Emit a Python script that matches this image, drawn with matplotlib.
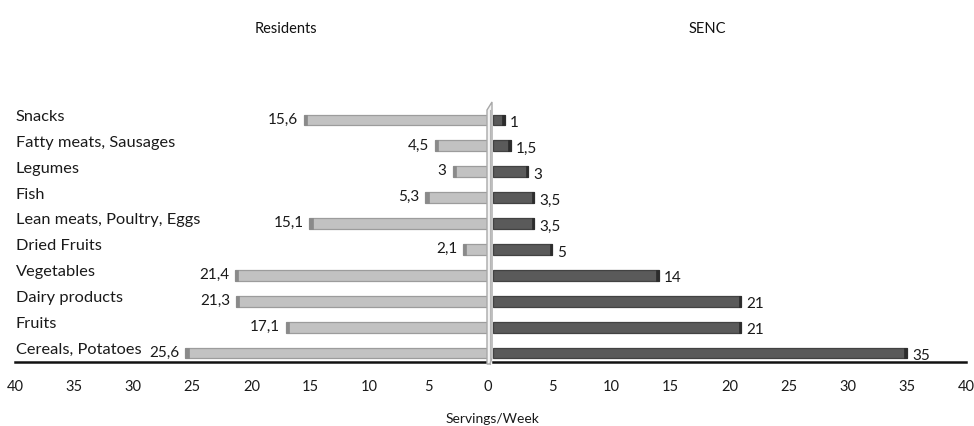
import matplotlib
matplotlib.use("Agg")
import matplotlib.pyplot as plt
from matplotlib.patches import Polygon

plt.rcParams['font.family'] = ['Lato', 'DejaVu Sans']

categories = ["Cereals, Potatoes", "Fruits", "Dairy products", "Vegetables",
              "Dried Fruits", "Lean meats, Poultry, Eggs", "Fish", "Legumes",
              "Fatty meats, Sausages", "Snacks"]
residents = [25.6, 17.1, 21.3, 21.4, 2.1, 15.1, 5.3, 3, 4.5, 15.6]
senc = [35, 21, 21, 14, 5, 3.5, 3.5, 3, 1.5, 1]
ticks = [0, 5, 10, 15, 20, 25, 30, 35, 40]

W, H = 974, 426
fig = plt.figure(figsize=(W / 100, H / 100), dpi=100)


def fx(px):
    return px / W


def fy(py):
    return 1 - py / H


bottom = fy(362)
height = fy(104.5) - bottom
axL = fig.add_axes([fx(15), bottom, fx(488) - fx(15), height])
axR = fig.add_axes([fx(493), bottom, fx(966) - fx(493), height])

ypos = list(range(len(categories)))
bh = 0.42


def fmt(v):
    return f"{v:g}".replace('.', ',')


# left panel: residents, light grey bars growing leftwards
axL.barh(ypos, residents, height=bh, color='#c2c2c2', edgecolor='#9c9c9c', lw=0.9, zorder=2)
capL = 0.28
axL.barh(ypos, [capL] * len(ypos), left=[v - capL for v in residents], height=bh,
         color='#8a8a8a', edgecolor='#8a8a8a', lw=0.5, zorder=3)
for y, v in zip(ypos, residents):
    axL.text(v + 0.5, y + 0.02, fmt(v), ha='right', va='center', fontsize=11, color='#1a1a1a')
axL.set_xlim(40, 0)

# right panel: SENC, dark grey bars growing rightwards
axR.barh(ypos, senc, height=bh, color='#5a5a5a', edgecolor='#424242', lw=0.9, zorder=2)
capR = 0.22
axR.barh(ypos, [capR] * len(ypos), left=[v - capR for v in senc], height=bh,
         color='#2c2c2c', edgecolor='#2c2c2c', lw=0.5, zorder=3)
for y, v in zip(ypos, senc):
    axR.text(v + 0.45, y - 0.12, fmt(v), ha='left', va='center', fontsize=11, color='#1a1a1a')
axR.set_xlim(0, 40)

for ax in (axL, axR):
    ax.set_ylim(-0.348, 9.6)
    ax.set_yticks([])
    ax.set_xticks(ticks)
    ax.tick_params(axis='x', length=0, pad=13, labelsize=10.5, colors='#1a1a1a')
    for s in ('top', 'left', 'right'):
        ax.spines[s].set_visible(False)
    ax.spines['bottom'].set_linewidth(1.8)
    ax.spines['bottom'].set_color('#111111')
    ax.patch.set_visible(False)

axR.set_xticklabels([''] + [str(t) for t in ticks[1:]])
axL.set_xticklabels([str(t) for t in ticks])

# category names inside the left panel
for y, c in zip(ypos, categories):
    axL.text(40 - 0.05, y + 0.12, c, ha='left', va='center', fontsize=11.8, color='#1a1a1a')

# thin 3-D wall separating the two panels
wall = Polygon([(fx(487), fy(364)), (fx(487), fy(110)), (fx(492), fy(102)),
                (fx(492), fy(358)), (fx(490), fy(364))],
               closed=True, transform=fig.transFigure, facecolor='#f4f4f4',
               edgecolor='#a8a8a8', lw=1.0, zorder=5)
fig.add_artist(wall)
fig.add_artist(plt.Line2D([fx(490), fx(490)], [fy(110), fy(364)], transform=fig.transFigure,
                          color='#b5b5b5', lw=0.8, zorder=6))

fig.text(fx(286), fy(29), "Residents", ha='center', va='center', fontsize=10.5, color='#111111')
fig.text(fx(707), fy(29), "SENC", ha='center', va='center', fontsize=10.5, color='#111111')
fig.text(fx(492), fy(419), "Servings/Week", ha='center', va='center', fontsize=10, color='#1a1a1a')

fig.savefig("out.png", dpi=100)
